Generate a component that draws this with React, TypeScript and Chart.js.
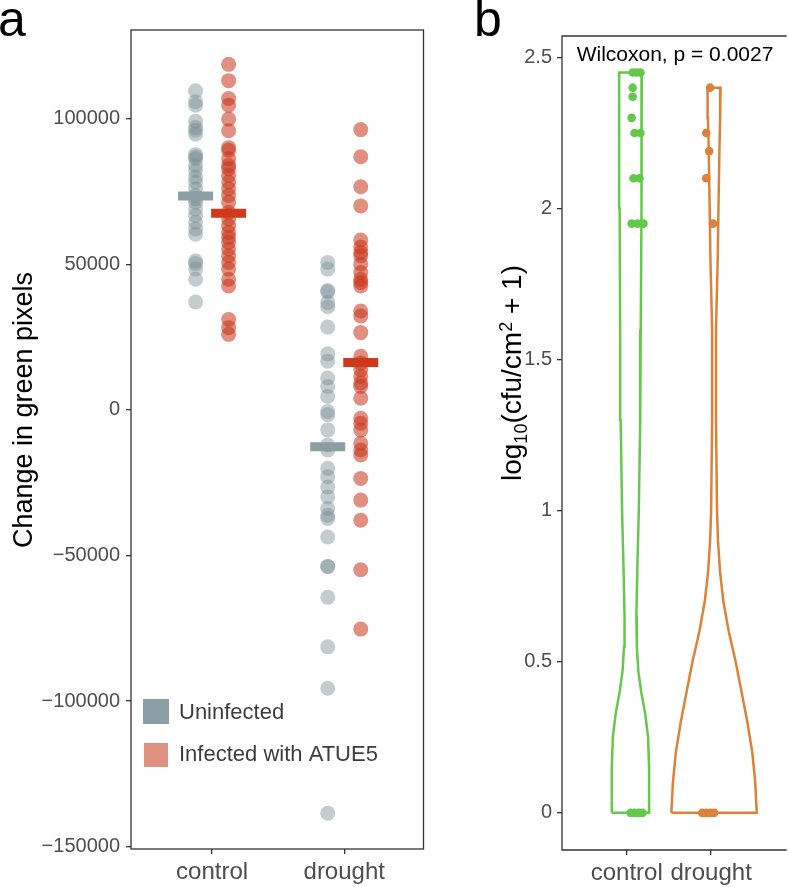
import React, { useEffect, useRef } from "react";
import { Chart, registerables } from "chart.js";
Chart.register(...registerables);

const FONT = '"Liberation Sans", Arial, Helvetica, sans-serif';

// ---------- Panel a data ----------
const groupLabels = ["control", "drought"];
const legendLabels = ["Uninfected", "Infected with ATUE5"];
const controlUninfected = [109500, 105800, 104600, 99100, 96900, 96000, 94600, 87600, 86900, 86200, 83900, 82200, 79900, 78200, 75900, 73600, 72500, 71300, 69000, 66700, 64400, 62100, 60300, 51100, 50200, 48300, 44800, 37000];
const controlInfected = [118600, 113000, 106900, 104600, 99800, 95800, 90000, 89100, 86200, 83900, 82800, 80500, 78200, 75900, 73600, 71300, 67800, 65500, 63200, 60900, 59200, 57500, 55200, 52900, 50600, 48300, 44800, 42500, 31000, 28200, 25900];
const droughtUninfected = [50600, 48300, 41000, 40500, 36800, 35400, 28400, 19200, 16700, 10900, 8000, 4600, -600, -1700, -6900, -12100, -13800, -20100, -23000, -26500, -29900, -33900, -36200, -37300, -43700, -53800, -53800, -64400, -81400, -95600, -138500];
const droughtInfected = [96200, 86900, 76600, 70000, 58300, 55900, 54000, 52900, 50000, 47100, 44800, 43700, 42500, 33900, 32200, 26500, 18400, 16100, 13800, 11500, 9200, 8000, 4000, -2900, -4600, -6900, -11500, -13800, -15500, -23600, -31000, -37900, -54900, -75300];
const meanUninfected = [73400, -12700];
const meanInfected = [67500, 16200];
const yTicksA = [-150000, -100000, -50000, 0, 50000, 100000];

// ---------- Panel b data ----------
const statLabel = "Wilcoxon, p = 0.0027";
const cfuControl = [2.45, 2.45, 2.45, 2.4, 2.37, 2.3, 2.25, 2.25, 2.1, 2.1, 1.95, 1.95, 1.95, 0, 0, 0, 0];
const cfuControlX = [1.07, 1.116, 1.163, 1.07, 1.07, 1.058, 1.093, 1.163, 1.081, 1.151, 1.058, 1.128, 1.198, 1.047, 1.093, 1.14, 1.186];
const cfuDrought = [2.4, 2.25, 2.19, 2.1, 1.95, 0, 0, 0, 0];
const cfuDroughtX = [1.988, 1.942, 1.977, 1.942, 2.023, 1.895, 1.942, 1.988, 2.035];
const violinCenters = [1.044, 2.035];
const violinCtrlLevels = [0, 0.15, 0.25, 0.33, 0.4, 0.47, 0.55, 0.65, 0.8, 1.0, 1.3, 1.6, 2.0, 2.3, 2.45];
const violinCtrlHalfWidth = [0.221, 0.221, 0.209, 0.174, 0.128, 0.093, 0.076, 0.07, 0.081, 0.099, 0.116, 0.122, 0.128, 0.134, 0.134];
const violinDrtLevels = [0, 0.1, 0.2, 0.3, 0.4, 0.5, 0.6, 0.7, 0.8, 0.9, 1.0, 1.3, 1.6, 1.83, 2.0, 2.2, 2.3, 2.4];
const violinDrtHalfWidth = [0.506, 0.488, 0.453, 0.395, 0.326, 0.256, 0.174, 0.11, 0.07, 0.047, 0.035, 0.023, 0.023, 0.043, 0.052, 0.064, 0.072, 0.077];
const yTicksB = [0, 0.5, 1, 1.5, 2, 2.5];

const GREEN = "#64c94b";
const ORANGE = "#dc8238";
const AXIS = "#333333";
const TICKTXT = "#4d4d4d";

function violinOutline(center: number, levels: number[], half: number[]) {
  const pts: { x: number; y: number }[] = [];
  for (let i = 0; i < levels.length; i++) pts.push({ x: center - half[i], y: levels[i] });
  for (let i = levels.length - 1; i >= 0; i--) pts.push({ x: center + half[i], y: levels[i] });
  pts.push({ x: center - half[0], y: levels[0] });
  return pts;
}

const fmtA = (v: number) => (v < 0 ? "\u2212" + String(-v) : String(v));
const fmtB = (v: number) => String(Math.round(v * 10) / 10);

const gridOpts = {
  display: true,
  drawOnChartArea: false,
  drawTicks: true,
  tickLength: 5,
  color: AXIS,
  lineWidth: 1.3,
};

export default function App() {
  const aRef = useRef<HTMLCanvasElement>(null);
  const bRef = useRef<HTMLCanvasElement>(null);

  useEffect(() => {
    const OFF = 0.125;
    const panelAPlugin = {
      id: "panelA",
      afterDraw(chart: any) {
        const { ctx, chartArea: ca } = chart;
        ctx.save();
        ctx.strokeStyle = AXIS;
        ctx.lineWidth = 1.3;
        ctx.strokeRect(ca.left, ca.top, ca.right - ca.left, ca.bottom - ca.top);
        ctx.fillStyle = "#000";
        ctx.font = `50px ${FONT}`;
        ctx.textAlign = "left";
        ctx.textBaseline = "alphabetic";
        ctx.fillText("a", -2, 36);
        ctx.save();
        ctx.translate(25, 410);
        ctx.rotate(-Math.PI / 2);
        ctx.font = `27px ${FONT}`;
        ctx.textAlign = "center";
        ctx.textBaseline = "middle";
        ctx.fillText("Change in green pixels", 0, 0);
        ctx.restore();
        ctx.fillStyle = "#8b9fa5";
        ctx.fillRect(143, 699, 26, 25);
        ctx.fillStyle = "#e0907f";
        ctx.fillRect(144, 743, 24, 24);
        ctx.fillStyle = "#3d3d3d";
        ctx.font = `22px ${FONT}`;
        ctx.textAlign = "left";
        ctx.textBaseline = "middle";
        ctx.fillText(legendLabels[0], 179, 713);
        ctx.fillText(legendLabels[1], 179, 755);
        ctx.restore();
      },
    };

    const chartA = new Chart(aRef.current!, {
      type: "scatter",
      data: {
        datasets: [
          {
            label: "mean uninfected",
            data: meanUninfected.map((v, i) => ({ x: i + 1 - OFF, y: v })),
            pointStyle: "line",
            pointRadius: 17.5,
            pointBorderWidth: 9,
            pointBorderColor: "#8a9ea4",
            borderColor: "#8a9ea4",
            order: 0,
          },
          {
            label: "mean infected",
            data: meanInfected.map((v, i) => ({ x: i + 1 + OFF, y: v })),
            pointStyle: "line",
            pointRadius: 17.5,
            pointBorderWidth: 9,
            pointBorderColor: "#d03a1c",
            borderColor: "#d03a1c",
            order: 0,
          },
          {
            label: legendLabels[0],
            data: [
              ...controlUninfected.map((v) => ({ x: 1 - OFF, y: v })),
              ...droughtUninfected.map((v) => ({ x: 2 - OFF, y: v })),
            ],
            pointRadius: 7.5,
            pointBorderWidth: 0,
            pointBackgroundColor: "rgba(115,139,147,0.43)",
            order: 1,
          },
          {
            label: legendLabels[1],
            data: [
              ...controlInfected.map((v) => ({ x: 1 + OFF, y: v })),
              ...droughtInfected.map((v) => ({ x: 2 + OFF, y: v })),
            ],
            pointRadius: 7.5,
            pointBorderWidth: 0,
            pointBackgroundColor: "rgba(200,51,24,0.55)",
            order: 1,
          },
        ],
      },
      options: {
        responsive: false,
        animation: false,
        events: [],
        devicePixelRatio: 1,
        layout: { padding: { top: 30, right: 9, left: 0, bottom: 0 } },
        plugins: { legend: { display: false }, tooltip: { enabled: false } },
        scales: {
          x: {
            type: "linear",
            min: 0.386,
            max: 2.6,
            afterBuildTicks: (s: any) => {
              s.ticks = [{ value: 1 }, { value: 2 }];
            },
            afterFit: (s: any) => {
              s.height = 38;
            },
            ticks: {
              callback: (v: any) => groupLabels[Math.round(v) - 1],
              font: { size: 24, family: FONT },
              color: TICKTXT,
              padding: 4,
              maxRotation: 0,
              autoSkip: false,
            },
            grid: gridOpts,
            border: { display: false },
          },
          y: {
            type: "linear",
            min: -150800,
            max: 130400,
            afterBuildTicks: (s: any) => {
              s.ticks = yTicksA.map((v) => ({ value: v }));
            },
            afterFit: (s: any) => {
              s.width = 131;
            },
            ticks: {
              callback: (v: any) => fmtA(v),
              font: { size: 20, family: FONT },
              color: TICKTXT,
              padding: 6,
              autoSkip: false,
            },
            grid: gridOpts,
            border: { display: false },
          },
        },
      },
      plugins: [panelAPlugin],
    } as any);

    const panelBPlugin = {
      id: "panelB",
      afterDraw(chart: any) {
        const { ctx, chartArea: ca } = chart;
        ctx.save();
        ctx.strokeStyle = AXIS;
        ctx.lineWidth = 1.3;
        ctx.beginPath();
        ctx.moveTo(ca.right + 2, ca.top);
        ctx.lineTo(ca.left, ca.top);
        ctx.lineTo(ca.left, ca.bottom);
        ctx.lineTo(ca.right + 2, ca.bottom);
        ctx.stroke();
        ctx.fillStyle = "#000";
        ctx.font = `50px ${FONT}`;
        ctx.textAlign = "left";
        ctx.textBaseline = "alphabetic";
        ctx.fillText("b", 4, 36);
        ctx.font = `21px ${FONT}`;
        ctx.textAlign = "center";
        ctx.fillText(statLabel, 675 - 470, 61);
        const big = 28;
        const small = 18;
        const parts: [string, number, number][] = [
          ["log", big, 0],
          ["10", small, 6],
          ["(cfu/cm", big, 0],
          ["2", small, -9],
          [" + 1)", big, 0],
        ];
        let total = 0;
        for (const [t, s] of parts) {
          ctx.font = `${s}px ${FONT}`;
          total += ctx.measureText(t).width;
        }
        ctx.save();
        ctx.translate(511 - 470, 373);
        ctx.rotate(-Math.PI / 2);
        ctx.textAlign = "left";
        ctx.textBaseline = "alphabetic";
        let x = -total / 2;
        for (const [t, s, dy] of parts) {
          ctx.font = `${s}px ${FONT}`;
          ctx.fillText(t, x, 10 + dy);
          x += ctx.measureText(t).width;
        }
        ctx.restore();
        ctx.restore();
      },
    };

    const chartB = new Chart(bRef.current!, {
      type: "scatter",
      data: {
        datasets: [
          {
            label: "control points",
            data: cfuControl.map((v, i) => ({ x: cfuControlX[i], y: v })),
            pointRadius: 4.3,
            pointBorderWidth: 0,
            pointBackgroundColor: GREEN,
            order: 0,
          },
          {
            label: "drought points",
            data: cfuDrought.map((v, i) => ({ x: cfuDroughtX[i], y: v })),
            pointRadius: 4.3,
            pointBorderWidth: 0,
            pointBackgroundColor: ORANGE,
            order: 0,
          },
          {
            label: "control violin",
            data: violinOutline(violinCenters[0], violinCtrlLevels, violinCtrlHalfWidth),
            showLine: true,
            pointRadius: 0,
            borderColor: GREEN,
            borderWidth: 2.5,
            tension: 0,
            fill: false,
            order: 1,
          },
          {
            label: "drought violin",
            data: violinOutline(violinCenters[1], violinDrtLevels, violinDrtHalfWidth),
            showLine: true,
            pointRadius: 0,
            borderColor: ORANGE,
            borderWidth: 2.5,
            tension: 0,
            fill: false,
            order: 1,
          },
        ],
      },
      options: {
        responsive: false,
        animation: false,
        events: [],
        devicePixelRatio: 1,
        layout: { padding: { top: 36, right: 0, left: 0, bottom: 0 } },
        plugins: { legend: { display: false }, tooltip: { enabled: false } },
        scales: {
          x: {
            type: "linear",
            min: 0.233,
            max: 2.872,
            afterBuildTicks: (s: any) => {
              s.ticks = [{ value: 1 }, { value: 2 }];
            },
            afterFit: (s: any) => {
              s.height = 37;
            },
            ticks: {
              callback: (v: any) => groupLabels[Math.round(v) - 1],
              font: { size: 24, family: FONT },
              color: TICKTXT,
              padding: 4,
              maxRotation: 0,
              autoSkip: false,
            },
            grid: gridOpts,
            border: { display: false },
          },
          y: {
            type: "linear",
            min: -0.123,
            max: 2.571,
            afterBuildTicks: (s: any) => {
              s.ticks = yTicksB.map((v) => ({ value: v }));
            },
            afterFit: (s: any) => {
              s.width = 92;
            },
            ticks: {
              callback: (v: any) => fmtB(v),
              font: { size: 20, family: FONT },
              color: TICKTXT,
              padding: 5,
              autoSkip: false,
            },
            grid: gridOpts,
            border: { display: false },
          },
        },
      },
      plugins: [panelBPlugin],
    } as any);

    return () => {
      chartA.destroy();
      chartB.destroy();
    };
  }, []);

  return (
    <div
      style={{
        position: "absolute",
        left: 0,
        top: 0,
        width: 789,
        height: 887,
        overflow: "hidden",
        background: "#ffffff",
      }}
    >
      <canvas
        ref={aRef}
        width={450}
        height={887}
        style={{ position: "absolute", left: 0, top: 0, width: 450, height: 887 }}
      />
      <canvas
        ref={bRef}
        width={319}
        height={887}
        style={{ position: "absolute", left: 470, top: 0, width: 319, height: 887 }}
      />
    </div>
  );
}
